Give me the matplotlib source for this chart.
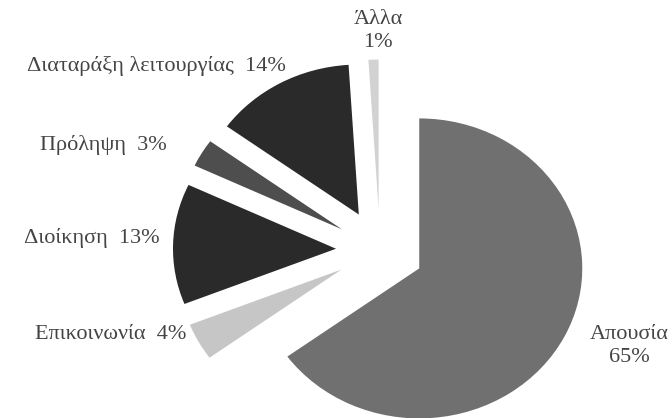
import matplotlib
matplotlib.use("Agg")
import matplotlib.pyplot as plt

labels = ["Απουσία", "Επικοινωνία", "Διοίκηση", "Πρόληψη",
          "Διαταράξη λειτουργίας", "Άλλα"]
values = [65, 4, 13, 3, 14, 1]
colors = ["#707070", "#c6c6c6", "#2a2a2a", "#4e4e4e", "#2a2a2a", "#d2d2d2"]

# label text positions (data coords) and alignment
label_pos = [(1.53, -0.64), (-1.19, -0.56), (-1.35, 0.08), (-1.31, 0.70),
             (-0.58, 1.23), (-0.01, 1.46)]
label_ha = ["center", "right", "right", "right", "right", "center"]
stacked = [True, False, False, False, False, True]

plt.rcParams["font.family"] = ["Liberation Serif", "DejaVu Serif"]

fig = plt.figure(figsize=(6.72, 4.18), dpi=100)
ax = fig.add_axes([0, 0, 1, 1])

explode = [0.27] * len(values)
ax.pie(values, colors=colors, explode=explode, startangle=90,
       counterclock=False, wedgeprops=dict(linewidth=0))

ax.set_aspect("auto")
ax.set_xlim(-2.331, 1.791)
ax.set_ylim(-1.12, 1.667)
ax.axis("off")

for name, v, (x, y), ha, st in zip(labels, values, label_pos, label_ha, stacked):
    txt = f"{name}\n{v}%" if st else f"{name}  {v}%"
    ax.text(x, y, txt, ha=ha, va="center", fontsize=16, color="#444444",
            linespacing=1.25)

fig.savefig("out.png", dpi=100)
